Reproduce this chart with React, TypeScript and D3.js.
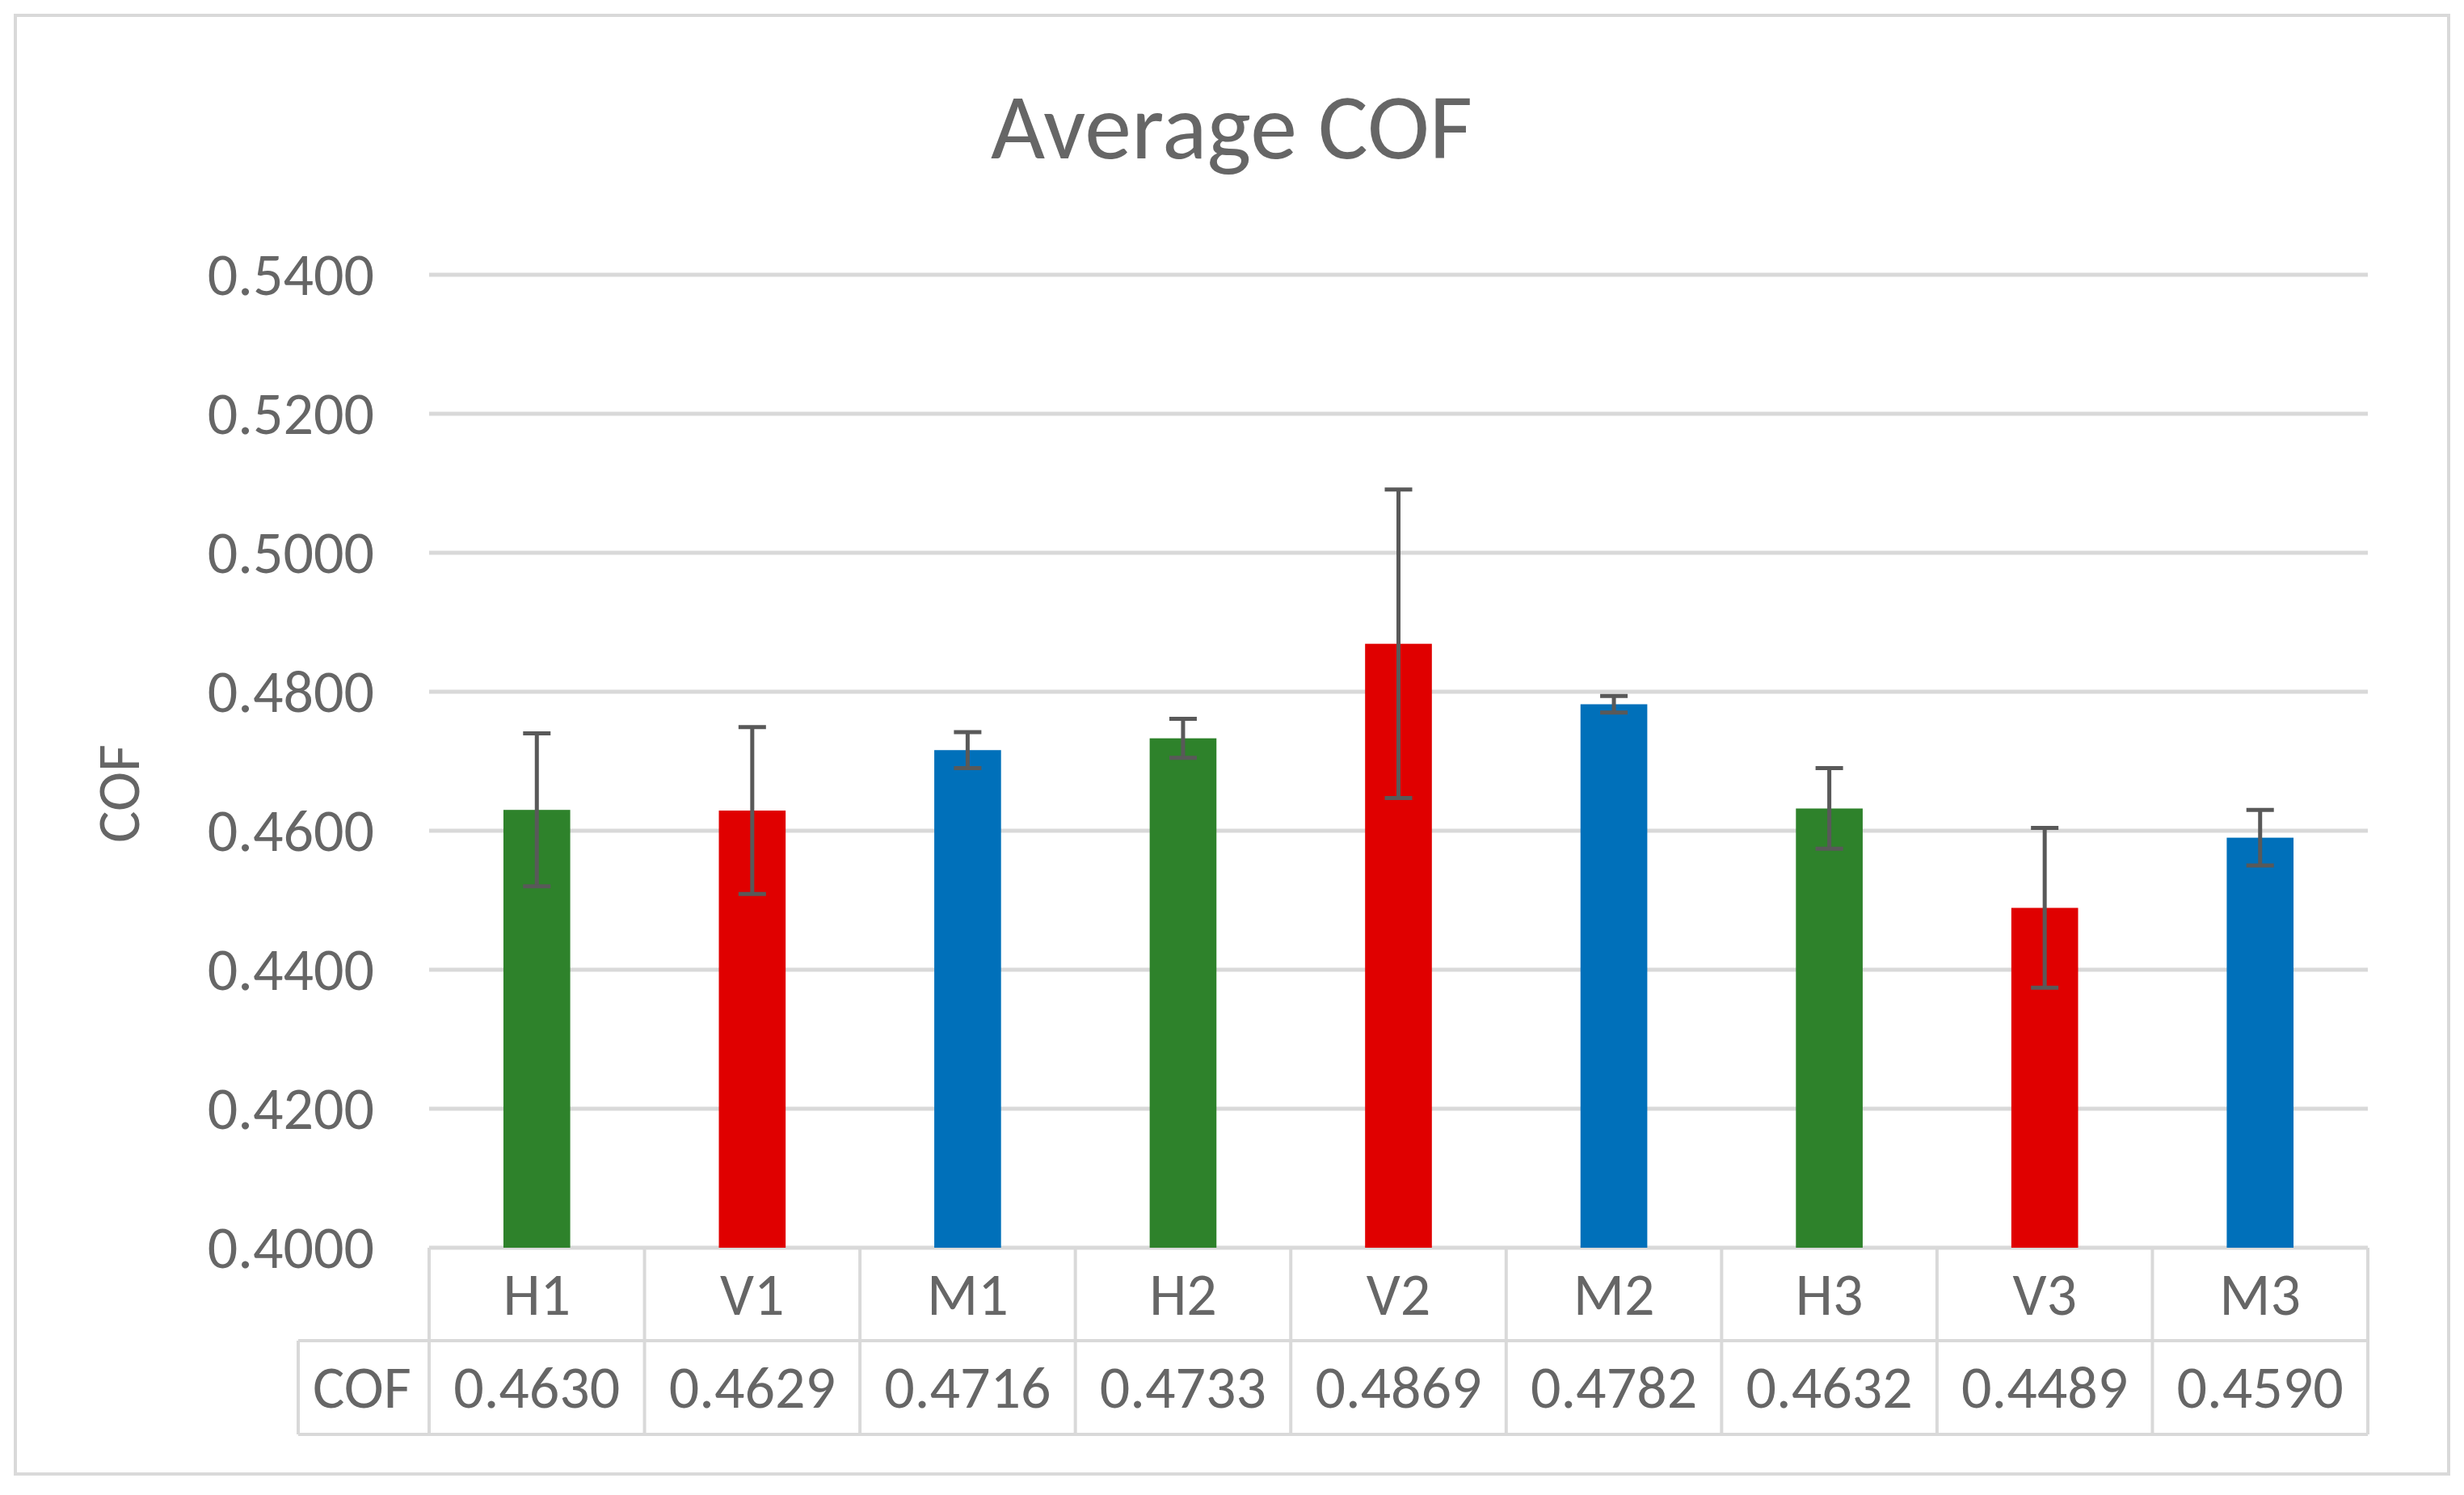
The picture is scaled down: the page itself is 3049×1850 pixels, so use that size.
import React from 'react';
import * as d3 from 'd3';

const categories = ['H1', 'V1', 'M1', 'H2', 'V2', 'M2', 'H3', 'V3', 'M3'];
const cofValues = [0.463, 0.4629, 0.4716, 0.4733, 0.4869, 0.4782, 0.4632, 0.4489, 0.459];
const errors = [0.011, 0.012, 0.0026, 0.0028, 0.0222, 0.0012, 0.0058, 0.0115, 0.004];
const colors = ['#2E822B', '#E00000', '#0070BA', '#2E822B', '#E00000', '#0070BA', '#2E822B', '#E00000', '#0070BA'];
const yTicks = [0.4, 0.42, 0.44, 0.46, 0.48, 0.5, 0.52, 0.54];

const W = 3049, H = 1850;
const left = 531, right = 2930, top = 340, bottom = 1544;
const row1 = 1659, row2 = 1775, tableLeft = 369;
const text = '#666666';
const grid = '#D9D9D9';
const font = 'Calibri, Carlito, Lato, "Liberation Sans", sans-serif';
const fs = 74;

const App: React.FC = () => {
  const x = d3.scaleBand<string>().domain(categories).range([left, right]);
  const y = d3.scaleLinear().domain([0.4, 0.54]).range([bottom, top]);
  const bw = x.bandwidth() * 0.31;
  return (
    <svg width={W} height={H} style={{ display: 'block', margin: '-8px' }} fontFamily={font}>
      <rect x={0} y={0} width={W} height={H} fill="#fff" />
      <rect x={19} y={19} width={3011} height={1805} fill="none" stroke={grid} strokeWidth={4} />
      <text x={1524} y={196} textAnchor="middle" fontSize={116} fill={text}>Average COF</text>
      {yTicks.map(t => (
        <g key={t}>
          <line x1={left} x2={right} y1={y(t)} y2={y(t)} stroke={grid} strokeWidth={5} />
          <text x={463} y={y(t) + 25} textAnchor="end" fontSize={fs} fill={text}>{t.toFixed(4)}</text>
        </g>
      ))}
      <text transform={`translate(172,${(top + bottom) / 2 + 40}) rotate(-90)`} textAnchor="middle" fontSize={fs} fill={text}>COF</text>
      {categories.map((c, i) => {
        const cx = x(c)! + x.bandwidth() / 2;
        const v = cofValues[i], e = errors[i];
        return (
          <g key={c}>
            <rect x={cx - bw / 2} y={y(v)} width={bw} height={bottom - y(v)} fill={colors[i]} />
            <line x1={cx} x2={cx} y1={y(v + e)} y2={y(v - e)} stroke="#595959" strokeWidth={5} />
            <line x1={cx - 17} x2={cx + 17} y1={y(v + e)} y2={y(v + e)} stroke="#595959" strokeWidth={5} />
            <line x1={cx - 17} x2={cx + 17} y1={y(v - e)} y2={y(v - e)} stroke="#595959" strokeWidth={5} />
            <text x={cx} y={(bottom + row1) / 2 + 25} textAnchor="middle" fontSize={fs} fill={text}>{c}</text>
            <text x={cx} y={(row1 + row2) / 2 + 25} textAnchor="middle" fontSize={fs} fill={text}>{v.toFixed(4)}</text>
          </g>
        );
      })}
      {[...categories.map(c => x(c)!), right].map((xx, i) => (
        <line key={i} x1={xx} x2={xx} y1={bottom} y2={row2} stroke={grid} strokeWidth={4} />
      ))}
      <line x1={tableLeft} x2={tableLeft} y1={row1} y2={row2} stroke={grid} strokeWidth={4} />
      <line x1={tableLeft} x2={right} y1={row1} y2={row1} stroke={grid} strokeWidth={4} />
      <line x1={tableLeft} x2={right} y1={row2} y2={row2} stroke={grid} strokeWidth={4} />
      <text x={tableLeft + 18} y={(row1 + row2) / 2 + 25} fontSize={fs} fill={text}>COF</text>
    </svg>
  );
};

export default App;
